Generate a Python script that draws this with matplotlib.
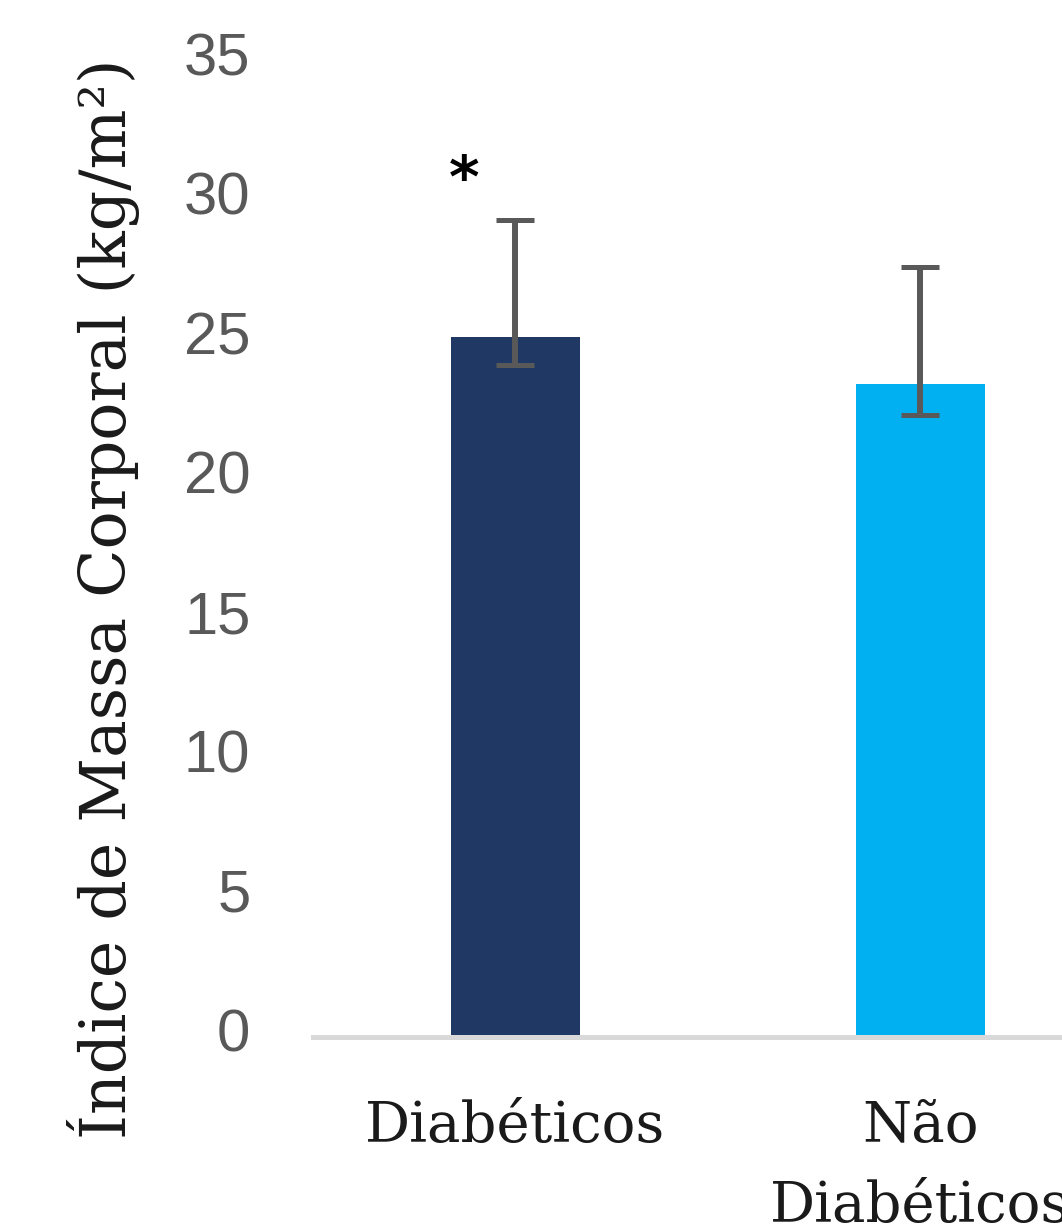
import matplotlib
matplotlib.use("Agg")
import matplotlib.pyplot as plt
from matplotlib.transforms import ScaledTranslation

# IMC médio por grupo, com barras de erro assimétricas
grupos = ["Diabéticos", "Não\nDiabéticos"]
imc = [25.1, 23.4]
erro_inf = [1.0, 1.1]
erro_sup = [4.2, 4.2]
cores = ["#203864", "#00B0F0"]

fig = plt.figure(figsize=(10.62, 12.25), dpi=100)
ax = fig.add_axes([0.2947, 0.1535, 0.7627, 0.797])

x = range(len(grupos))
ax.bar(x, imc, width=0.32, color=cores, zorder=2)
ax.errorbar(x, imc, yerr=[erro_inf, erro_sup], fmt="none", ecolor="#595959",
            elinewidth=4.3, capsize=13.5, capthick=3.6, zorder=3)

ax.set_xlim(-0.5, 1.5)
ax.set_ylim(0, 35)
ax.set_yticks(range(0, 36, 5))
ax.set_xticks(list(x))
ax.set_xticklabels(grupos, family="DejaVu Serif", fontsize=40.5, color="#1a1a1a",
                   linespacing=1.58)
ax.tick_params(axis="y", length=0, pad=45, labelsize=43, labelcolor="#595959")
ax.tick_params(axis="x", length=0, pad=45)
shift = ScaledTranslation(0, 7 / 100, fig.dpi_scale_trans)
for lab in ax.get_yticklabels():
    lab.set_family("Liberation Sans")
    lab.set_transform(lab.get_transform() + shift)

for s in ["top", "right", "left"]:
    ax.spines[s].set_visible(False)
ax.spines["bottom"].set_color("#D9D9D9")
ax.spines["bottom"].set_linewidth(3.6)

ax.set_ylabel("Índice de Massa Corporal (kg/m²)", family="DejaVu Serif",
              fontsize=45.5, color="#1a1a1a")
ax.yaxis.set_label_coords(-0.213, 0.449)

# marcador de significância
ax.text(-0.128, 30.7, "*", fontsize=42, fontweight="bold", ha="center",
        va="center", color="black")

fig.savefig("out.png", dpi=100)
